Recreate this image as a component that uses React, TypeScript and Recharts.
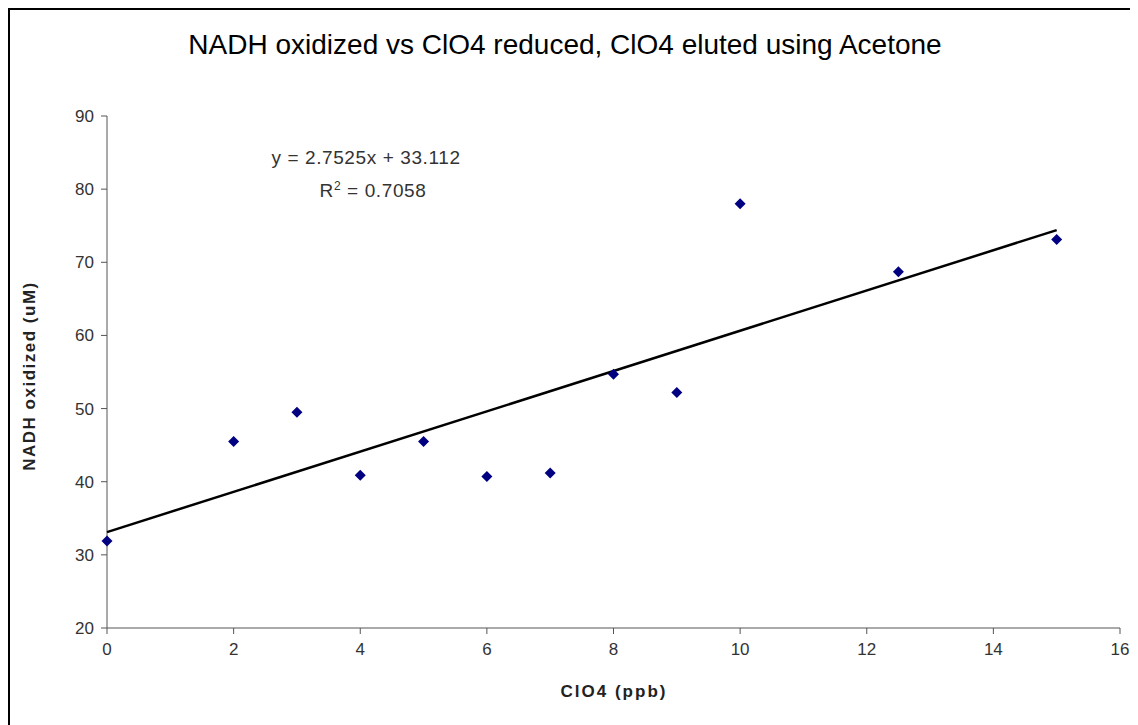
import { ScatterChart, Scatter, XAxis, YAxis } from "recharts";

// ClO4 (ppb) vs NADH oxidized (uM)
const clo4 = [0, 2, 3, 4, 5, 6, 7, 8, 9, 10, 12.5, 15];
const nadh = [31.9, 45.5, 49.5, 40.9, 45.5, 40.7, 41.2, 54.7, 52.2, 78.0, 68.7, 73.1];

// linear trendline end points (y = 2.7525x + 33.112)
const trendX = [0, 15];
const trendY = [33.112, 74.4];

const xTicks = [0, 2, 4, 6, 8, 10, 12, 14, 16];
const yTicks = [20, 30, 40, 50, 60, 70, 80, 90];

const points = clo4.map((x, i) => ({ x, y: nadh[i] }));
const trend = trendX.map((x, i) => ({ x, y: trendY[i] }));

const font = '"Liberation Sans", Arial, sans-serif';

const Diamond = (props: any) => {
  const { cx, cy } = props;
  const r = 5.5;
  return (
    <polygon
      points={`${cx},${cy - r} ${cx + r},${cy} ${cx},${cy + r} ${cx - r},${cy}`}
      fill="#000080"
    />
  );
};

const NoDot = () => <g />;

export default function App() {
  return (
    <div
      style={{
        position: "relative",
        width: 1128,
        height: 715,
        borderTop: "2px solid #000",
        borderLeft: "2px solid #000",
        background: "#fff",
        fontFamily: font,
      }}
    >
      <div
        style={{
          position: "absolute",
          left: 0,
          top: 19,
          width: 1110,
          textAlign: "center",
          fontSize: 28,
          lineHeight: "32px",
          color: "#000",
        }}
      >
        NADH oxidized vs ClO4 reduced, ClO4 eluted using Acetone
      </div>

      <div
        style={{
          position: "absolute",
          left: 156,
          top: 134,
          width: 400,
          textAlign: "center",
          fontSize: 19,
          letterSpacing: 0.6,
          lineHeight: "28px",
          color: "#333",
        }}
      >
        <div>y = 2.7525x + 33.112</div>
        <div style={{ marginLeft: 14 }}>
          R<sup style={{ fontSize: 12 }}>2</sup> = 0.7058
        </div>
      </div>

      <div
        style={{
          position: "absolute",
          left: 20 - 150,
          top: 366 - 12,
          width: 300,
          height: 24,
          lineHeight: "24px",
          textAlign: "center",
          transform: "rotate(-90deg)",
          fontSize: 17,
          letterSpacing: 1.5,
          fontWeight: "bold",
          color: "#222",
        }}
      >
        NADH oxidized (uM)
      </div>

      <div
        style={{
          position: "absolute",
          left: 604 - 150,
          top: 682 - 12,
          width: 300,
          height: 24,
          lineHeight: "24px",
          textAlign: "center",
          fontSize: 17,
          letterSpacing: 2,
          fontWeight: "bold",
          color: "#222",
        }}
      >
        ClO4 (ppb)
      </div>

      <ScatterChart
        width={1128}
        height={715}
        margin={{ top: 106, right: 18, left: 37, bottom: 57 }}
      >
        <XAxis
          type="number"
          dataKey="x"
          domain={[0, 16]}
          ticks={xTicks}
          height={40}
          stroke="#555"
          tickMargin={9}
          tick={{ fill: "#333", fontSize: 17, fontFamily: font }}
        />
        <YAxis
          type="number"
          dataKey="y"
          domain={[20, 90]}
          ticks={yTicks}
          width={60}
          stroke="#555"
          tickMargin={7}
          tick={{ fill: "#333", fontSize: 17, fontFamily: font }}
        />
        <Scatter
          data={trend}
          line={{ stroke: "#000", strokeWidth: 2.5 }}
          shape={NoDot}
          isAnimationActive={false}
        />
        <Scatter data={points} shape={Diamond} isAnimationActive={false} />
      </ScatterChart>
    </div>
  );
}
